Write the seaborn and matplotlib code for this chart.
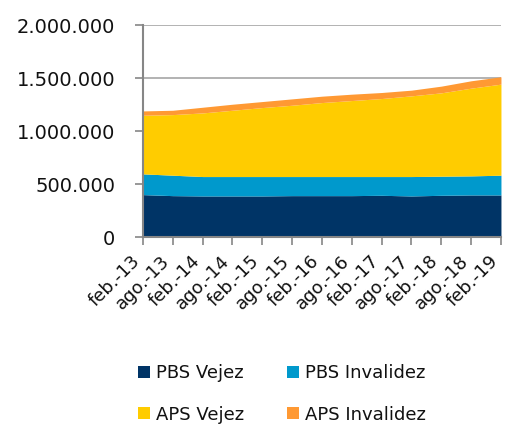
import numpy as np
import matplotlib
matplotlib.use("Agg")
import matplotlib.pyplot as plt
import matplotlib.ticker as mticker
import matplotlib.transforms as mtransforms
from matplotlib.patches import Patch
import seaborn as sns

# Data
periods = ["feb.-13", "ago.-13", "feb.-14", "ago.-14", "feb.-15", "ago.-15",
           "feb.-16", "ago.-16", "feb.-17", "ago.-17", "feb.-18", "ago.-18", "feb.-19"]
pbs_vejez = [401000, 391500, 388400, 388400, 388400, 391500, 391500,
             391500, 394700, 388400, 394700, 397900, 397900]
pbs_invalidez = [195800, 192700, 183100, 183100, 183100, 180000, 180000,
                 180000, 176800, 183100, 180000, 179900, 186300]
aps_vejez = [552600, 571500, 600000, 625200, 650500, 672500, 697800,
             716800, 735700, 761000, 786200, 827300, 858800]
aps_invalidez = [41000, 41000, 53600, 56900, 56800, 60100, 60100,
                 60000, 56900, 53700, 63200, 69500, 69500]
series_names = ["PBS Vejez", "PBS Invalidez", "APS Vejez", "APS Invalidez"]
colors = ["#003466", "#0099CC", "#FFCC00", "#FF9933"]

sns.set_theme(style="white")
plt.rcParams["font.family"] = ["DejaVu Sans"]

fig = plt.figure(figsize=(5.05, 4.25), dpi=100)
ax = fig.add_axes([0.283, 0.442, 0.709, 0.499])

x = np.arange(len(periods))
ax.stackplot(x, pbs_vejez, pbs_invalidez, aps_vejez, aps_invalidez,
             colors=colors, linewidth=0, zorder=2)

ax.set_xlim(0, len(periods) - 1)
ax.set_ylim(0, 2000000)
ax.set_yticks(np.arange(0, 2000001, 500000))
ax.yaxis.set_major_formatter(
    mticker.FuncFormatter(lambda v, p: f"{int(v):,}".replace(",", ".")))
ax.yaxis.grid(True, color="#A6A6A6", linewidth=1.2, zorder=1)
ax.set_axisbelow(True)

for side in ["top", "right"]:
    ax.spines[side].set_visible(False)
for side in ["left", "bottom"]:
    ax.spines[side].set_color("#868686")
    ax.spines[side].set_linewidth(1.5)
    ax.spines[side].set_zorder(3)

ax.tick_params(axis="y", labelsize=14, length=6, width=1.2, color="#868686",
               left=True, pad=14, labelcolor="#111111")
ax.tick_params(axis="x", labelsize=13, length=6, width=1.2, color="#868686",
               bottom=True, pad=9, labelcolor="#111111")

ax.set_xticks(x)
ax.set_xticklabels(periods, rotation=45, ha="right", va="center",
                   rotation_mode="anchor")
# nudge the rotated labels a little to the left (after tick_params, which resets transforms)
shift = mtransforms.ScaledTranslation(-4 / 72, 0, fig.dpi_scale_trans)
for lbl in ax.get_xticklabels():
    lbl.set_transform(lbl.get_transform() + shift)

# legend: row-major order with two columns
handles = [Patch(facecolor=c, edgecolor="none") for c in colors]
order = [0, 2, 1, 3]
fig.legend([handles[i] for i in order], [series_names[i] for i in order],
           ncol=2, loc="upper left", bbox_to_anchor=(0.273, 0.143),
           frameon=False, fontsize=13, handlelength=0.65, handleheight=0.65,
           handletextpad=0.35, columnspacing=2.4, labelspacing=1.3,
           borderaxespad=0, borderpad=0, labelcolor="#111111")

fig.savefig("out.png", dpi=100)
